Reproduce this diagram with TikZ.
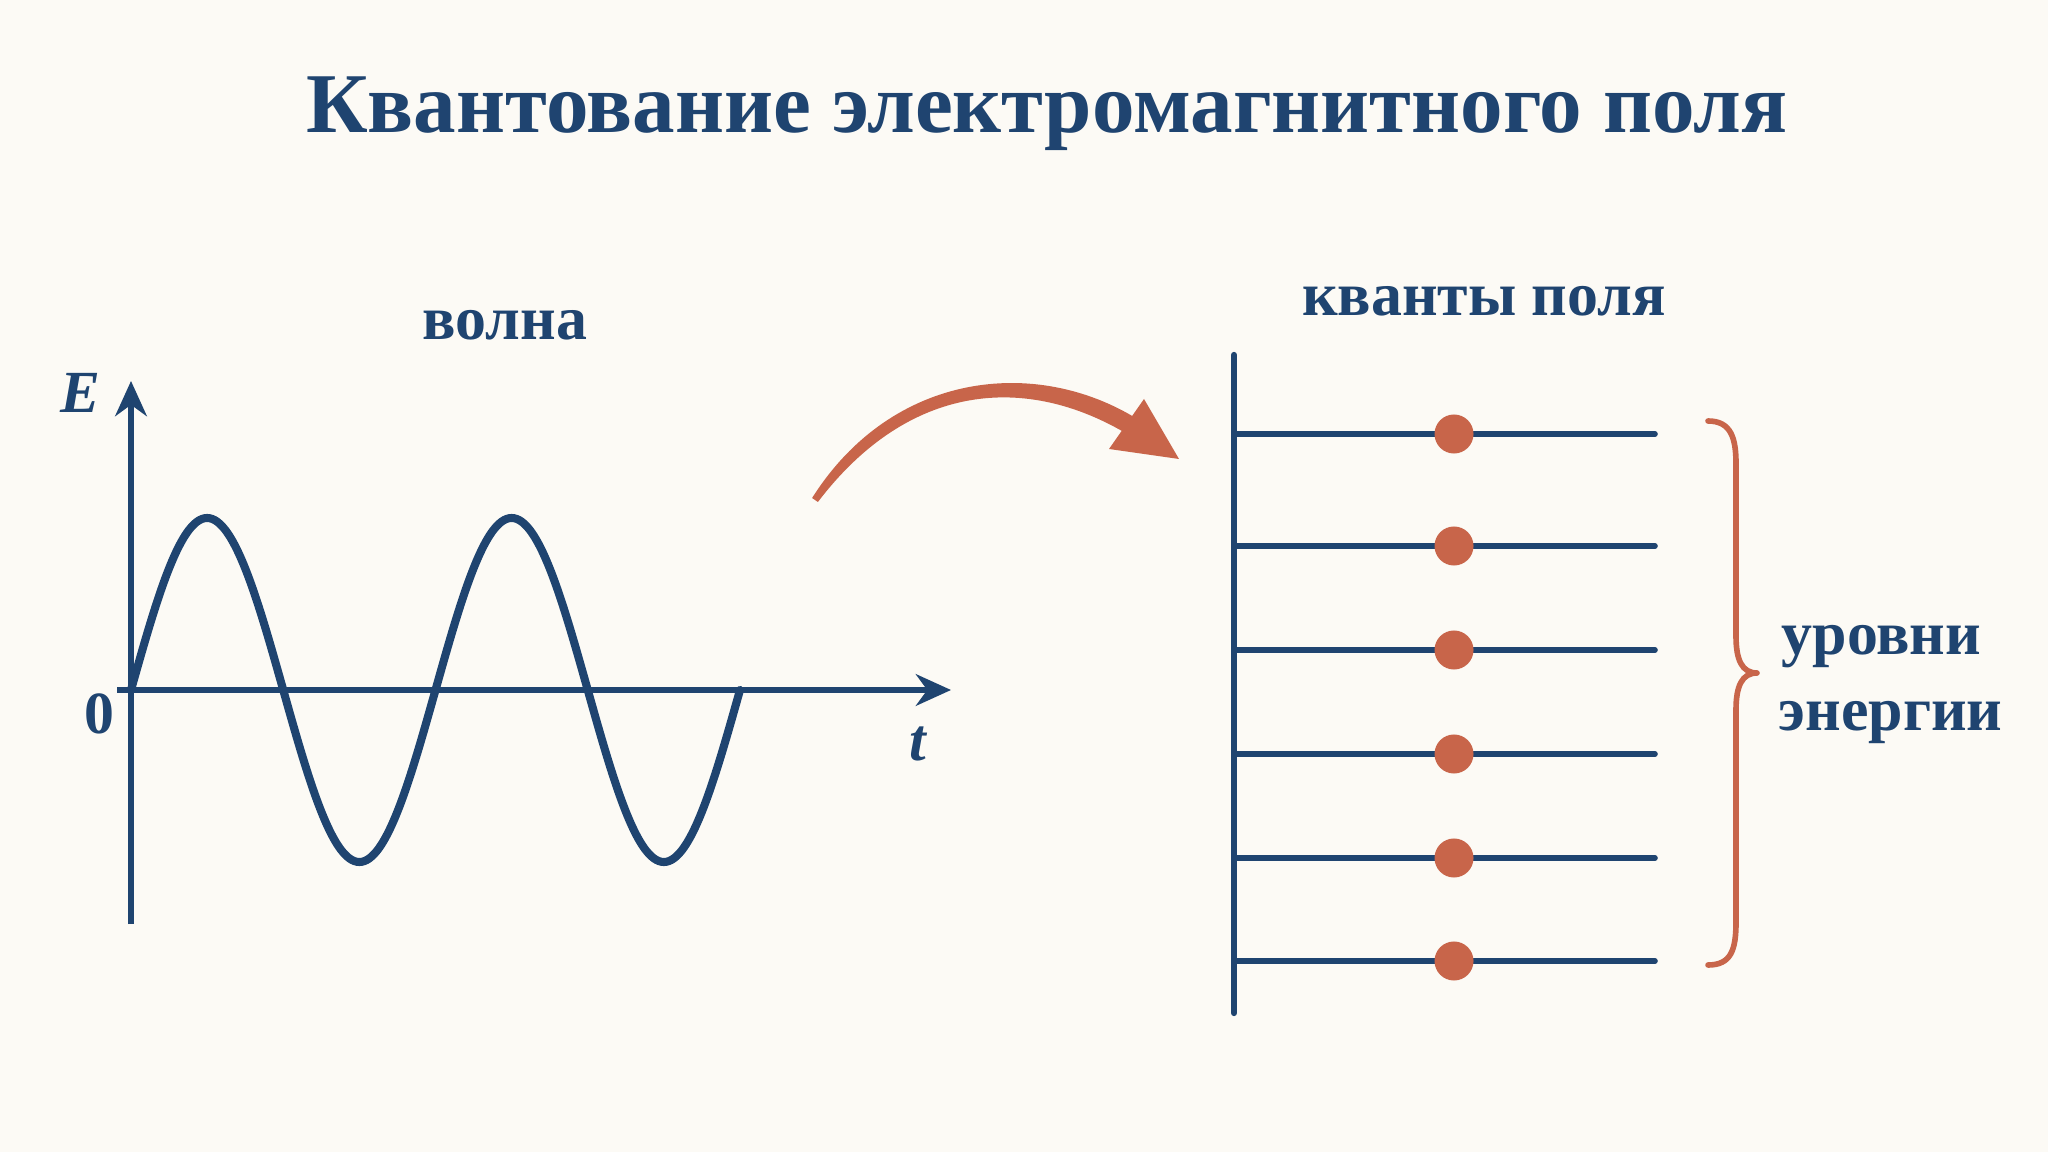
\documentclass[tikz,border=0pt]{standalone}
\usepackage{fontspec}
\setmainfont{Liberation Serif}
\usetikzlibrary{arrows.meta}
\definecolor{navy}{HTML}{1F4470}
\definecolor{rust}{HTML}{C8654A}
\definecolor{bg}{HTML}{FCFAF5}
\begin{document}
\begin{tikzpicture}[x=0.01cm,y=-0.01cm,
  lbl/.style={font=\bfseries\fontsize{17.6}{21}\selectfont, text=navy, inner sep=0pt, anchor=base},
  ttl/.style={font=\bfseries\fontsize{24.2}{29}\selectfont, text=navy, inner sep=0pt, anchor=base},
  axislbl/.style={font=\bfseries\itshape\fontsize{17}{20}\selectfont, text=navy, inner sep=0pt, anchor=base},
  axis/.style={draw=navy, line width=1.5pt, -{Stealth[length=10pt,width=9pt]}},
  wave/.style={draw=navy, line width=2.3pt, line cap=round, line join=round},
  level/.style={draw=navy, line width=1.6pt, line cap=round},
  vline/.style={draw=navy, line width=1.8pt, line cap=round},
  dotq/.style={circle, fill=rust, inner sep=0pt, minimum size=0.39cm},
  arrowfill/.style={fill=rust},
  bracestyle/.style={draw=rust, line width=1.6pt, line cap=round, line join=round}]
\useasboundingbox (0,0) rectangle (2048,1152);
\fill[bg] (0,0) rectangle (2048,1152);
% title
\node[ttl] (title) at (1047,133) {Квантование электромагнитного поля};
% left: wave
\node[lbl] (wlab) at (505,340) {волна};
\coordinate (Ebot) at (131,924);
\coordinate (Etop) at (131,381);
\coordinate (tl) at (117,690);
\coordinate (tr) at (951,690);
\draw[axis] (Ebot) -- (Etop);
\draw[axis] (tl) -- (tr);
\node[axislbl] (Elab) at (80,413) {E};
\node[lbl, font=\bfseries\fontsize{17}{20}\selectfont] (zero) at (99,733) {0};
\node[axislbl] (tlab) at (918,760) {t};
\draw[wave] plot[domain=0:720, samples=241, smooth] ({131+\x/360*304.5},{690-172*sin(\x)});
% tapered arrow from wave to levels
\coordinate (aSt) at (812.1,498);
\coordinate (aSb) at (817.9,502);
\coordinate (aEt) at (1137.7,419.3);
\coordinate (aEb) at (1128.3,434.7);
\coordinate (hU) at (1144,399);
\coordinate (hT) at (1179,459);
\coordinate (hL) at (1109,449);
\fill[arrowfill] (aSt) .. controls (892.3,371.3) and (1036.2,356.1) .. (aEt)
  -- (aEb) .. controls (1025.8,373.1) and (908.7,382.7) .. (aSb) -- cycle;
\fill[arrowfill] (hU) -- (hT) -- (hL) -- cycle;
% right: levels
\node[lbl] (qlab) at (1484,316) {кванты поля};
\coordinate (vb) at (1234,1013);
\coordinate (vt) at (1234,355);
\draw[vline] (vb) -- (vt);
\foreach \y [count=\i] in {434,546,650,754,858,961} {
  \coordinate (L\i a) at (1234,\y);
  \coordinate (L\i b) at (1655,\y);
  \draw[level] (L\i a) -- (L\i b);
  \node[dotq] (D\i) at (1454,\y) {};
}
% brace
\coordinate (bt) at (1708,421);
\coordinate (bm) at (1757,673);
\coordinate (bb) at (1708,965);
\draw[bracestyle] (bt) .. controls (1731,421) and (1736,438) .. (1736,464)
  -- (1736,636) .. controls (1736,660) and (1742,673) .. (bm)
  .. controls (1742,673) and (1736,686) .. (1736,710)
  -- (1736,922) .. controls (1736,950) and (1731,965) .. (bb);
\node[lbl, anchor=base west] (lv1) at (1781,655) {уровни};
\node[lbl, anchor=base west] (lv2) at (1778,730) {энергии};
\end{tikzpicture}
\end{document}
